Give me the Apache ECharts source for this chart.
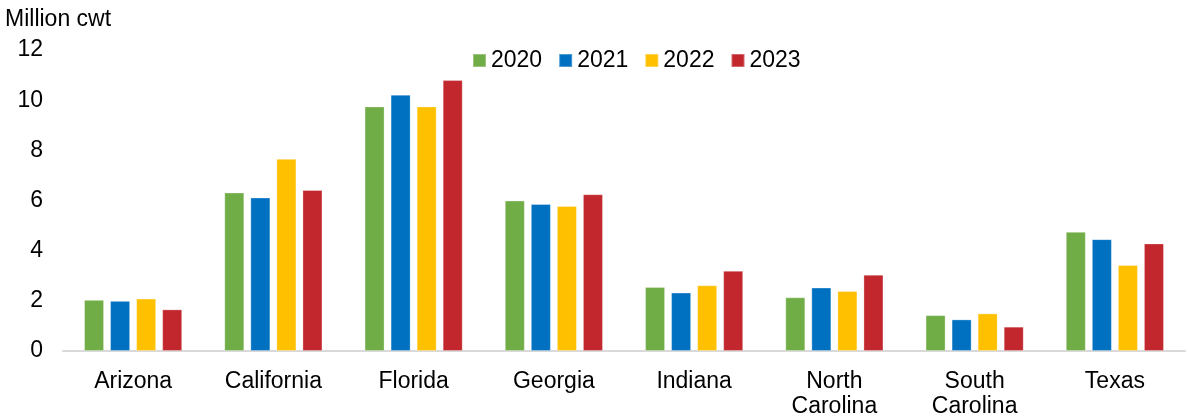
<!DOCTYPE html>
<html>
<head>
<meta charset="utf-8">
<script src="https://cdn.jsdelivr.net/npm/echarts@6/dist/echarts.min.js"></script>
<style>
  html, body { margin: 0; padding: 0; background: #fff; }
  #chart { width: 1188px; height: 419px; }
</style>
</head>
<body>
<div id="chart"></div>
<script>
// Production by state, million cwt
const states = ['Arizona', 'California', 'Florida', 'Georgia', 'Indiana', 'North\nCarolina', 'South\nCarolina', 'Texas'];
const years = ['2020', '2021', '2022', '2023'];
const values2020 = [2.04, 6.32, 9.75, 6.00, 2.55, 2.14, 1.43, 4.75];
const values2021 = [2.00, 6.12, 10.22, 5.86, 2.33, 2.53, 1.26, 4.46];
const values2022 = [2.09, 7.66, 9.75, 5.78, 2.62, 2.39, 1.50, 3.43];
const values2023 = [1.66, 6.42, 10.80, 6.25, 3.20, 3.04, 0.97, 4.29];
const yTicks = [0, 2, 4, 6, 8, 10, 12];

const seriesValues = [values2020, values2021, values2022, values2023];
const colors = ['#70AD47', '#0070C0', '#FFC000', '#C1272D'];
const font = '"Liberation Sans", Arial, sans-serif';
const fs = 23;

const chart = echarts.init(document.getElementById('chart'));
chart.setOption({
  animation: false,
  textStyle: { fontFamily: font, color: '#000' },
  title: {
    text: 'Million cwt',
    left: 5,
    top: 8,
    padding: 0,
    textStyle: { fontFamily: font, fontSize: fs, fontWeight: 'normal', color: '#000' }
  },
  legend: {
    data: years,
    left: 472,
    top: 49,
    padding: 0,
    itemWidth: 13,
    itemHeight: 13,
    itemGap: 16,
    icon: 'rect',
    textStyle: { fontFamily: font, fontSize: fs, color: '#000' }
  },
  grid: { left: 63, right: 3, top: 50, bottom: 65, containLabel: false },
  xAxis: {
    type: 'category',
    data: states,
    axisLine: { lineStyle: { color: '#D9D9D9', width: 2 } },
    axisTick: { show: false },
    axisLabel: {
      interval: 0,
      margin: 18,
      fontFamily: font,
      fontSize: fs,
      lineHeight: 25,
      color: '#000',
      verticalAlign: 'top'
    }
  },
  yAxis: {
    type: 'value',
    min: yTicks[0],
    max: yTicks[yTicks.length - 1],
    interval: 2,
    axisLine: { show: false },
    axisTick: { show: false },
    splitLine: { show: false },
    axisLabel: { margin: 20, fontFamily: font, fontSize: fs, color: '#000' }
  },
  series: years.map((y, i) => ({
    name: y,
    type: 'bar',
    data: seriesValues[i],
    barGap: '30%',
    barCategoryGap: '30%',
    itemStyle: { color: colors[i], borderColor: 'rgba(255,255,255,0.3)', borderWidth: 1 }
  }))
});
</script>
</body>
</html>
